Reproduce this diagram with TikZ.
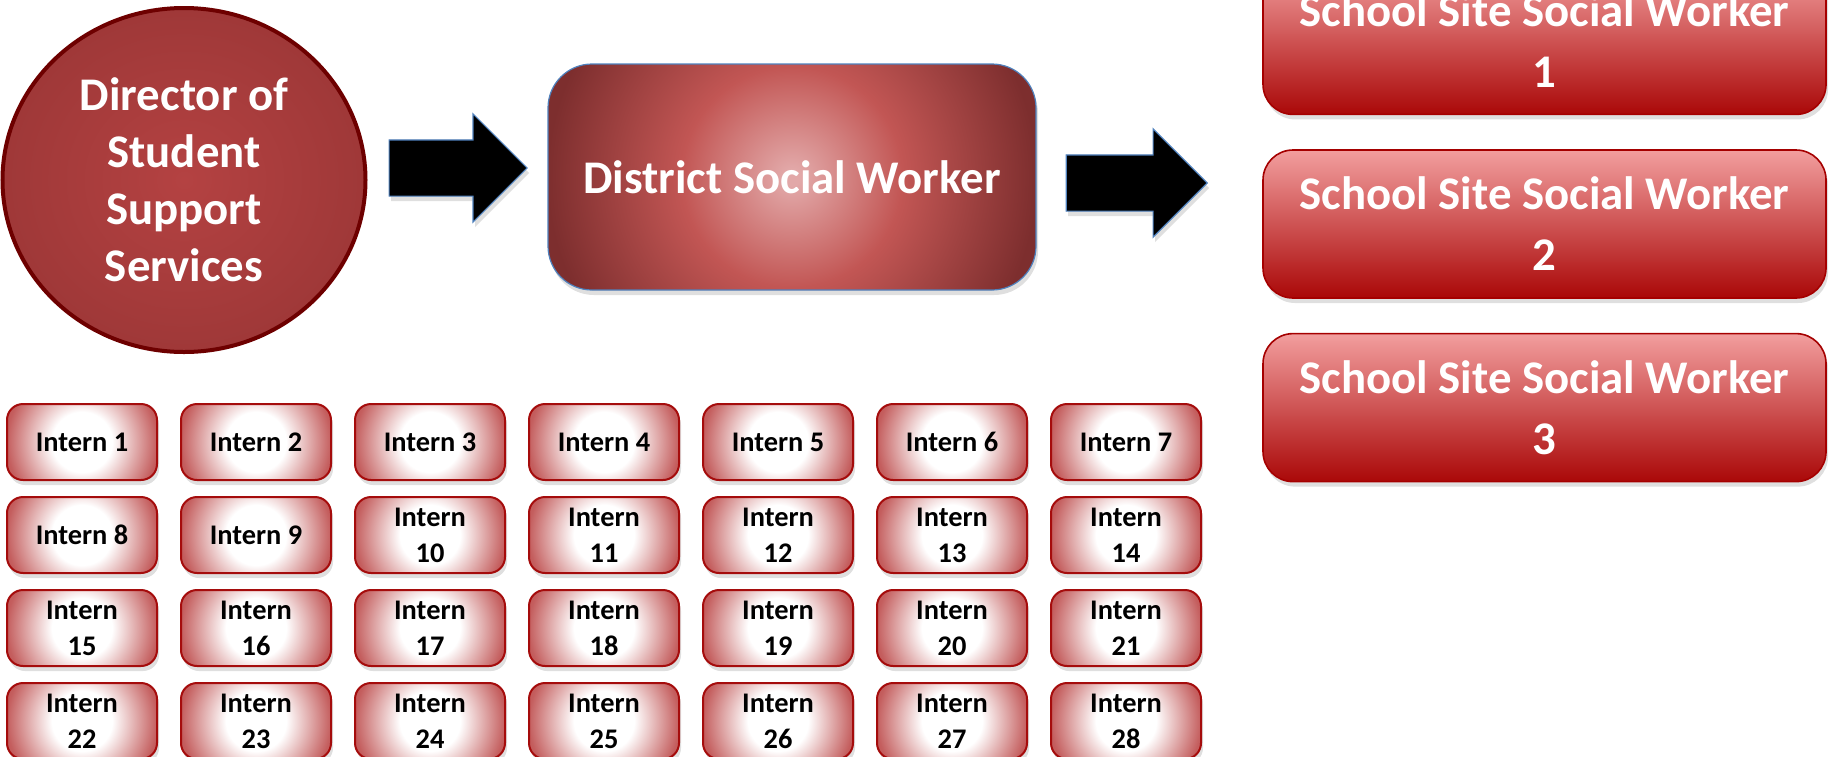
\documentclass[tikz,border=0pt]{standalone}
\usepackage{fontspec}
\setmainfont{Carlito}
\usetikzlibrary{positioning, shapes.geometric, shapes.arrows, shadows}

\definecolor{dirin}{RGB}{180,66,66}
\definecolor{dirout}{RGB}{138,46,46}
\definecolor{dirline}{RGB}{110,0,0}
\definecolor{dswlight}{RGB}{226,168,168}
\definecolor{dswmid}{RGB}{194,86,84}
\definecolor{dswdark}{RGB}{125,46,46}
\definecolor{bordblue}{RGB}{79,129,189}
\definecolor{sswtop}{RGB}{242,158,158}
\definecolor{sswbot}{RGB}{170,8,8}
\definecolor{sswline}{RGB}{165,0,0}
\definecolor{intedge}{RGB}{196,94,94}
\definecolor{intcorner}{RGB}{186,76,76}
\definecolor{intline}{RGB}{165,12,12}

\pgfdeclareradialshading{dirglow}{\pgfpointorigin}{color(0bp)=(dirin); color(50bp)=(dirout)}
\pgfdeclareradialshading{dswglow}{\pgfpointorigin}{color(0bp)=(dswlight); color(4bp)=(dswlight); color(55bp)=(dswmid); color(122bp)=(dswdark); color(140bp)=(dswdark)}
\pgfdeclareradialshading{internglow}{\pgfpointorigin}{color(0bp)=(white); color(15bp)=(white); color(37.5bp)=(intedge); color(45bp)=(intcorner)}

\tikzset{
	softshadow/.style={drop shadow={shadow xshift=1pt, shadow yshift=-2.5pt, opacity=0.25}},
	glow/.style={path picture={\node[anchor=center, inner sep=0pt, minimum size=0pt] at (path picture bounding box.center) {\pgfuseshading{#1}};}},
	director/.style={ellipse, minimum width=181.5pt, minimum height=172pt, inner sep=0pt, draw=dirline, line width=2pt, shade, shading=dirglow, text=white, align=center, font=\fontsize{23.4}{28.5}\selectfont\bfseries},
	district/.style={rectangle, rounded corners=22pt, minimum width=244pt, minimum height=113pt, draw=bordblue, line width=0.6pt, softshadow, glow=dswglow, text=white, font=\fontsize{23.4}{28.5}\selectfont\bfseries},
	school/.style={rectangle, rounded corners=15pt, minimum width=281.5pt, minimum height=74pt, draw=sswline, line width=0.8pt, top color=sswtop, bottom color=sswbot, softshadow, text=white, align=center, font=\fontsize{23.4}{30.5}\selectfont\bfseries},
	intern/.style={rectangle, rounded corners=8pt, minimum width=75pt, minimum height=38pt, inner sep=2pt, draw=intline, line width=1pt, softshadow, glow=internglow, align=center, font=\fontsize{14.2}{18}\selectfont\bfseries},
	blockarrow/.style={single arrow, single arrow head extend=13pt, minimum height=69pt, inner xsep=0pt, inner ysep=13.75pt, fill=black, draw=bordblue, line width=0.6pt, softshadow}
}

\begin{document}
\begin{tikzpicture}[x=0.5pt, y=-0.5pt, node distance=7.5pt and 11pt]
	\useasboundingbox (0,0) rectangle (1834,756);
	
	\node[director] (dir) at (184,180) {Director of\\Student\\Support\\Services};
	\node[district] (dsw) at (792,177) {District Social Worker};
	
	\node[school] (ssw2) at (1544.5,224) {School Site Social Worker\\2};
	\node[school, above=17pt of ssw2] (ssw1) {School Site Social Worker\\1};
	\node[school, below=17pt of ssw2] (ssw3) {School Site Social Worker\\3};
	
	\node[blockarrow, right=10.5pt of dir, yshift=6pt] (arr1) {};
	\node[blockarrow, minimum height=70.5pt, right=14.5pt of dsw, yshift=-3pt] (arr2) {};
	
	\node[intern] (i1) at (82,442) {Intern 1};
	\node[intern, right=of i1] (i2) {Intern 2};
	\node[intern, right=of i2] (i3) {Intern 3};
	\node[intern, right=of i3] (i4) {Intern 4};
	\node[intern, right=of i4] (i5) {Intern 5};
	\node[intern, right=of i5] (i6) {Intern 6};
	\node[intern, right=of i6] (i7) {Intern 7};
	
	\node[intern, below=of i1] (i8) {Intern 8};
	\node[intern, right=of i8] (i9) {Intern 9};
	\node[intern, right=of i9] (i10) {Intern\\10};
	\node[intern, right=of i10] (i11) {Intern\\11};
	\node[intern, right=of i11] (i12) {Intern\\12};
	\node[intern, right=of i12] (i13) {Intern\\13};
	\node[intern, right=of i13] (i14) {Intern\\14};
	
	\node[intern, below=of i8] (i15) {Intern\\15};
	\node[intern, right=of i15] (i16) {Intern\\16};
	\node[intern, right=of i16] (i17) {Intern\\17};
	\node[intern, right=of i17] (i18) {Intern\\18};
	\node[intern, right=of i18] (i19) {Intern\\19};
	\node[intern, right=of i19] (i20) {Intern\\20};
	\node[intern, right=of i20] (i21) {Intern\\21};
	
	\node[intern, below=of i15] (i22) {Intern\\22};
	\node[intern, right=of i22] (i23) {Intern\\23};
	\node[intern, right=of i23] (i24) {Intern\\24};
	\node[intern, right=of i24] (i25) {Intern\\25};
	\node[intern, right=of i25] (i26) {Intern\\26};
	\node[intern, right=of i26] (i27) {Intern\\27};
	\node[intern, right=of i27] (i28) {Intern\\28};
\end{tikzpicture}
\end{document}
